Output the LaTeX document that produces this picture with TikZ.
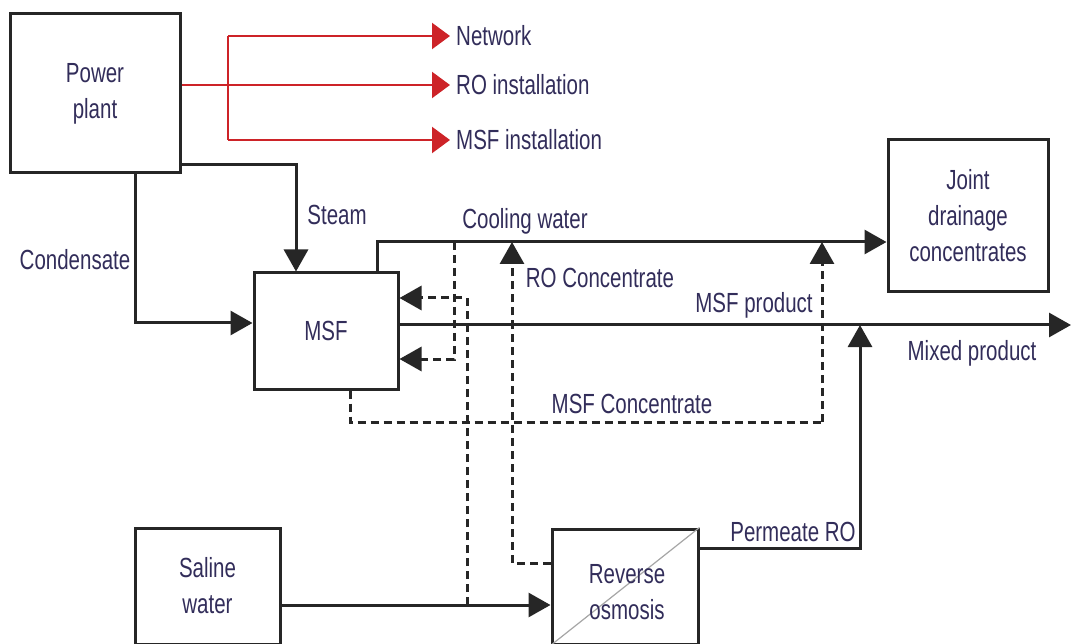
\documentclass[tikz,border=0pt]{standalone}
\usepackage{fontspec}
\setmainfont{Liberation Sans}
\usepackage{graphicx}
\usetikzlibrary{arrows.meta}
\definecolor{txt}{RGB}{50,45,90}
\definecolor{redl}{RGB}{205,35,40}
\newcommand{\tx}[1]{\scalebox{1}[1.35]{#1}}
\begin{document}
\begin{tikzpicture}[x=1pt,y=-1pt,
 box/.style={draw=black!85,line width=3pt,fill=white,align=center,text=txt,font=\fontsize{20.5}{36}\selectfont,inner sep=0pt},
 lbl/.style={text=txt,font=\fontsize{20.5}{24}\selectfont,inner sep=0pt},
 rlbl/.style={lbl,inner xsep=6pt},
 flow/.style={line width=3pt,draw=black!85},
 arr/.style={flow,-{Triangle[length=22pt,width=24pt]}},
 darr/.style={arr,dash pattern=on 8pt off 5pt},
 dflow/.style={flow,dash pattern=on 8pt off 5pt},
 redline/.style={line width=2.2pt,draw=redl},
 redarr/.style={redline,-{Triangle[length=18pt,width=26pt]}},
]
\fill[white] (0,0) rectangle (1071,644);
\useasboundingbox (0,0) rectangle (1071,644);

% boxes
\node[box,minimum width=170pt,minimum height=159pt] (power) at (95,93.5) {\tx{Power}\\\tx{plant}};
\node[box,minimum width=144pt,minimum height=116pt] (msf) at (326,331) {\tx{MSF}};
\node[box,minimum width=160pt,minimum height=152pt] (joint) at (968,216) {\tx{Joint}\\\tx{drainage}\\\tx{concentrates}};
\node[box,minimum width=145pt,minimum height=116pt] (saline) at (207.5,586) {\tx{Saline}\\\tx{water}};
\node[box,minimum width=146pt,minimum height=115pt] (ro) at (625,586.5) {};
\draw[black!35,line width=1.2pt] (ro.south west) -- (ro.north east);
\node[lbl,align=center,font=\fontsize{20.5}{36}\selectfont] (rotext) at (627,592) {\tx{Reverse}\\\tx{osmosis}};

% red outputs
\node[rlbl,anchor=west] (net) at (450,36) {\tx{Network}};
\node[rlbl,anchor=west] (roi) at (450,85) {\tx{RO installation}};
\node[rlbl,anchor=west] (msfi) at (450,140) {\tx{MSF installation}};
\coordinate (rb) at (228,0);
\draw[redline] (rb |- net.west) -- (rb |- msfi.west);
\draw[redarr] (rb |- net.west) -- (net.west);
\draw[redarr] (power.east |- roi.west) -- (roi.west);
\draw[redarr] (rb |- msfi.west) -- (msfi.west);

% coordinates
\coordinate (mixend) at (1071,325);
\coordinate (cw1) at (454,242);
\coordinate (sw1) at (467,605);
\coordinate (roc) at (512,242);
\coordinate (mscb) at (822,422);
\coordinate (msc) at (822,242);
\coordinate (mp) at (860,325);

% solid flows
\draw[arr] ([yshift=10pt]power.south east) -| ([xshift=-30pt]msf.north);
\draw[arr] ([xshift=40pt]power.south) |- ([yshift=8pt]msf.west);
\draw[arr] ([xshift=51pt]msf.north) |- ([yshift=-26pt]joint.west);
\draw[arr] ([yshift=6pt]msf.east) -- (mixend);
\draw[arr] (saline.east |- sw1) -- (ro.west |- sw1);
\draw[arr] ([yshift=38.5pt]ro.east) -| (mp);

% dashed flows
\draw[darr] (cw1) |- ([yshift=-28pt]msf.east);
\draw[darr] (sw1) |- ([yshift=33pt]msf.east);
\draw[darr] ([yshift=23.5pt]ro.west) -| (roc);
\draw[dflow] ([xshift=24pt]msf.south) |- (mscb);
\draw[darr] (mscb) -- (msc);

% labels
\node[lbl] (lcond) at (75,260) {\tx{Condensate}};
\node[lbl] (lsteam) at (337,215) {\tx{Steam}};
\node[lbl] (lcool) at (525,221) {\tx{Cooling water}};
\node[lbl] (lroc) at (600,278) {\tx{RO Concentrate}};
\node[lbl] (lmsfp) at (754,305) {\tx{MSF product}};
\node[lbl] (lmix) at (972,353) {\tx{Mixed product}};
\node[lbl] (lmsfc) at (632,404) {\tx{MSF Concentrate}};
\node[lbl] (lperm) at (793,532) {\tx{Permeate RO}};
\end{tikzpicture}
\end{document}
